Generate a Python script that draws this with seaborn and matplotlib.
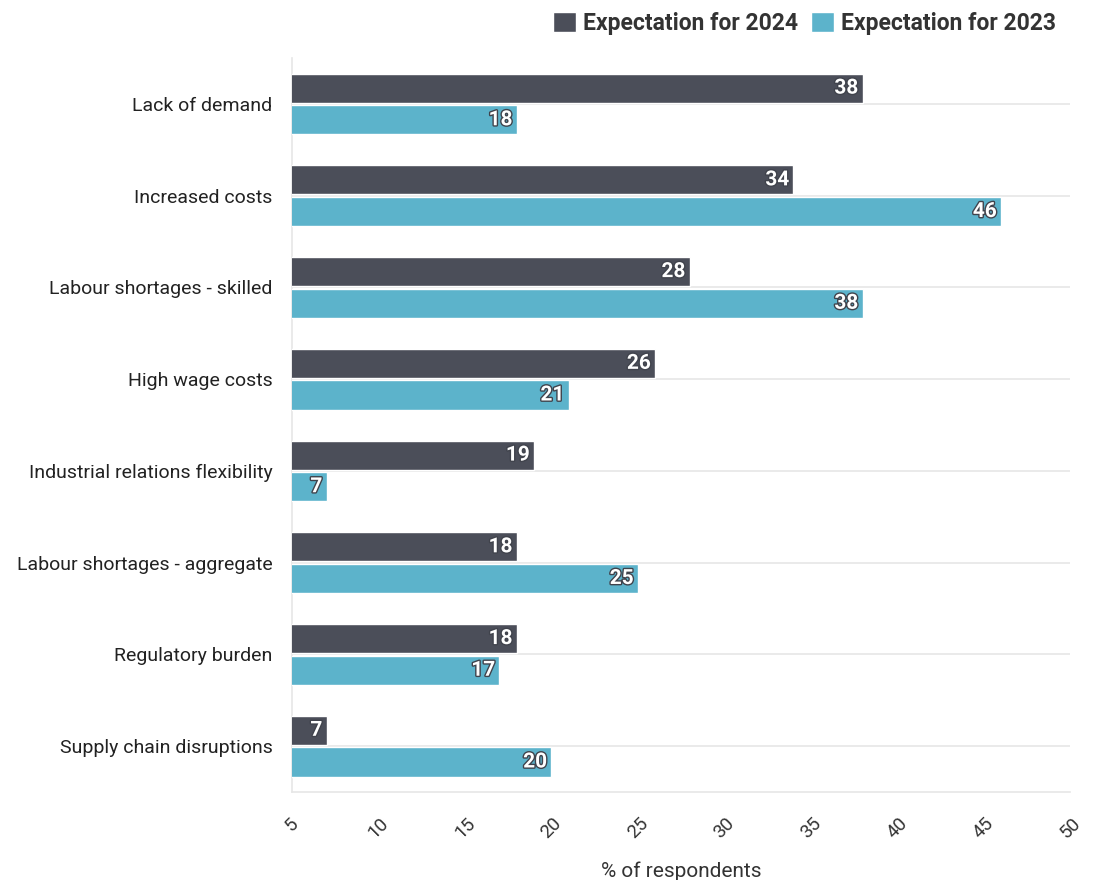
import pandas as pd
import matplotlib.pyplot as plt
import matplotlib.patheffects as pe
import seaborn as sns

categories = ["Lack of demand", "Increased costs", "Labour shortages - skilled",
              "High wage costs", "Industrial relations flexibility",
              "Labour shortages - aggregate", "Regulatory burden",
              "Supply chain disruptions"]
exp_2024 = [38, 34, 28, 26, 19, 18, 18, 7]
exp_2023 = [18, 46, 38, 21, 7, 25, 17, 20]
series = ["Expectation for 2024", "Expectation for 2023"]
colors = ["#4b4e59", "#5cb3cb"]
x_ticks = list(range(5, 51, 5))

sns.set_theme(style="white")
plt.rcParams["font.family"] = ["Roboto", "DejaVu Sans"]

df = pd.DataFrame({
    "category": categories * 2,
    "value": exp_2024 + exp_2023,
    "series": [series[0]] * len(categories) + [series[1]] * len(categories),
})

fig = plt.figure(figsize=(10.94, 8.8), dpi=100)
ax = fig.add_axes([0.2669, 0.1, 0.7112, 0.834])

sns.barplot(data=df, y="category", x="value", hue="series", orient="h",
            palette=colors, hue_order=series, width=0.69, gap=0.08,
            saturation=1, ax=ax, zorder=3)

ax.set_xlim(5, 50)
ax.set_xticks(x_ticks)
ax.set_xticklabels([str(t) for t in x_ticks], rotation=45, ha="center",
                   va="top", fontsize=13.5, color="#333333")
ax.tick_params(axis="x", length=10, color="#e6e6e6", pad=6)
ax.tick_params(axis="y", length=10, color="#e6e6e6", labelsize=14,
               labelcolor="#222222", pad=4)
ax.set_ylabel("")
ax.set_xlabel("% of respondents", fontsize=15, color="#333333", labelpad=14)

ax.grid(axis="y", color="#e6e6e6", linewidth=1.2, zorder=0)
ax.grid(axis="x", visible=False)
ax.set_axisbelow(True)
for s in ["top", "right"]:
    ax.spines[s].set_visible(False)
for s in ["left", "bottom"]:
    ax.spines[s].set_color("#e6e6e6")
    ax.spines[s].set_linewidth(1.2)

for cont, col in zip(ax.containers, colors):
    texts = ax.bar_label(cont, padding=-3, color="white", fontsize=15,
                         fontweight="bold")
    for t in texts:
        t.set_ha("right")
        t.set_path_effects([pe.withStroke(linewidth=2, foreground="#40434c")])

sns.move_legend(ax, loc="lower right", bbox_to_anchor=(1.0, 1.013), ncol=2,
                frameon=False, title=None, handlelength=1.0,
                handleheight=1.0, handletextpad=0.3, columnspacing=0.6,
                borderpad=0.3, borderaxespad=0.3,
                prop={"weight": "bold", "size": 16.5})
for t in ax.get_legend().get_texts():
    t.set_color("#333333")

fig.savefig("out.png", dpi=100)
